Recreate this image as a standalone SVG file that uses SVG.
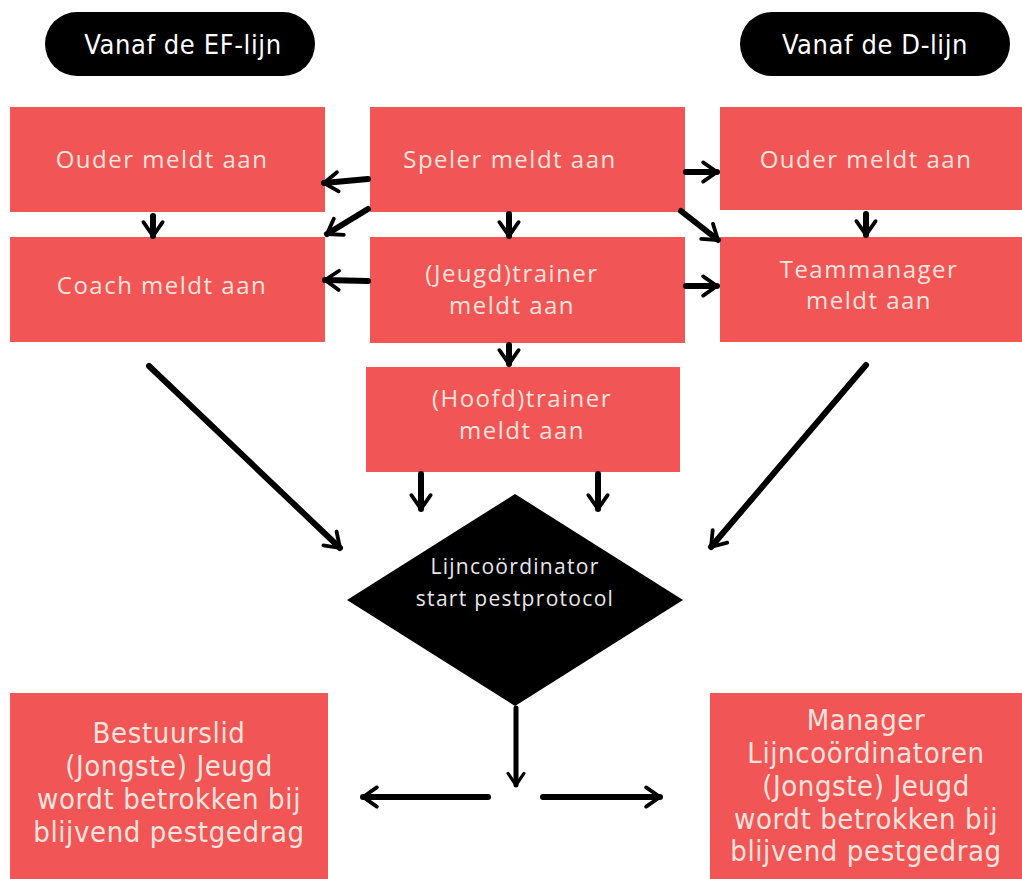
<svg xmlns="http://www.w3.org/2000/svg" width="1022" height="879" viewBox="0 0 1022 879">
<defs>
<style>
.box{fill:#f25555}
.t{font-family:"Open Sans","Liberation Sans",sans-serif;font-size:24px;letter-spacing:1.5px;fill:#f7e4de;text-anchor:middle}
.c{font-family:"DejaVu Sans Condensed","Liberation Sans",sans-serif;font-size:29px;letter-spacing:0.6px;fill:#f7e4de;text-anchor:middle}
.p{font-family:"DejaVu Sans Condensed","Liberation Sans",sans-serif;font-size:27px;letter-spacing:0.6px;fill:#ffffff;text-anchor:middle}
.d{font-family:"Open Sans","Liberation Sans",sans-serif;font-size:21px;letter-spacing:1.3px;fill:#e8e8e8;text-anchor:middle}
.a{stroke:#000;stroke-width:6;fill:none;stroke-linecap:round;marker-end:url(#h)}
</style>
<marker id="h" viewBox="0 0 10 10" refX="8" refY="5" markerWidth="4.2" markerHeight="4.2" orient="auto" markerUnits="strokeWidth">
<path d="M2.5,1.2 L8,5 L2.5,8.8" fill="none" stroke="#000" stroke-width="1.5" stroke-linecap="round" stroke-linejoin="round"/>
</marker>
</defs>
<rect width="1022" height="879" fill="#fff"/>
<g id="pill-ef"><rect x="45" y="12" width="270" height="64" rx="32" fill="#000"/><text class="p" x="183" y="54">Vanaf de EF-lijn</text></g>
<g id="pill-d"><rect x="740" y="12" width="270" height="64" rx="32" fill="#000"/><text class="p" x="875" y="54">Vanaf de D-lijn</text></g>
<g id="ouder-ef"><rect class="box" x="10" y="107" width="315" height="105"/><text class="t" x="162" y="168">Ouder meldt aan</text></g>
<g id="speler"><rect class="box" x="370" y="107" width="315" height="105"/><text class="t" x="510" y="168">Speler meldt aan</text></g>
<g id="ouder-d"><rect class="box" x="720" y="107" width="302" height="103"/><text class="t" x="866" y="168">Ouder meldt aan</text></g>
<g id="coach"><rect class="box" x="10" y="237" width="315" height="105"/><text class="t" x="162" y="294">Coach meldt aan</text></g>
<g id="jeugdtrainer"><rect class="box" x="370" y="237" width="315" height="106"/><text class="t" x="512" y="282">(Jeugd)trainer</text><text class="t" x="512" y="314">meldt aan</text></g>
<g id="teammanager"><rect class="box" x="720" y="237" width="302" height="105"/><text class="t" x="869" y="278">Teammanager</text><text class="t" x="869" y="309">meldt aan</text></g>
<g id="hoofdtrainer"><rect class="box" x="366" y="367" width="314" height="105"/><text class="t" x="522" y="407">(Hoofd)trainer</text><text class="t" x="522" y="439">meldt aan</text></g>
<g id="lijncoordinator"><polygon points="515,494 683,600 515,706 347,600" fill="#000"/><text class="d" x="515" y="574">Lijncoördinator</text><text class="d" x="515" y="606">start pestprotocol</text></g>
<g id="bestuurslid"><rect class="box" x="10" y="693" width="318" height="186"/>
<text class="c" x="169" y="743">Bestuurslid</text><text class="c" x="169" y="776">(Jongste) Jeugd</text><text class="c" x="169" y="809">wordt betrokken bij</text><text class="c" x="169" y="842">blijvend pestgedrag</text></g>
<g id="manager"><rect class="box" x="710" y="693" width="312" height="186"/>
<text class="c" x="866" y="730">Manager</text><text class="c" x="866" y="763">Lijncoördinatoren</text><text class="c" x="866" y="796">(Jongste) Jeugd</text><text class="c" x="866" y="829">wordt betrokken bij</text><text class="c" x="866" y="861">blijvend pestgedrag</text></g>
<g id="connectors">
<line class="a" x1="368" y1="179" x2="324" y2="183"/>
<line class="a" x1="686" y1="172" x2="717" y2="172"/>
<line class="a" x1="368" y1="209" x2="327" y2="234"/>
<line class="a" x1="681" y1="211" x2="718" y2="240"/>
<line class="a" x1="509" y1="214" x2="509" y2="236"/>
<line class="a" x1="153" y1="216" x2="153" y2="236"/>
<line class="a" x1="866" y1="214" x2="866" y2="235"/>
<line class="a" x1="368" y1="281" x2="325" y2="280"/>
<line class="a" x1="686" y1="286" x2="717" y2="286"/>
<line class="a" x1="509" y1="345" x2="509" y2="364"/>
<line class="a" x1="421" y1="474" x2="421" y2="509"/>
<line class="a" x1="598" y1="474" x2="598" y2="509"/>
<line class="a" x1="149" y1="366" x2="340" y2="548"/>
<line class="a" x1="866" y1="365" x2="711" y2="547"/>
<line class="a" x1="516" y1="708" x2="516" y2="785" style="stroke-width:5"/>
<line class="a" x1="488" y1="797" x2="363" y2="797"/>
<line class="a" x1="543" y1="797" x2="660" y2="797"/>
</g>
</svg>
